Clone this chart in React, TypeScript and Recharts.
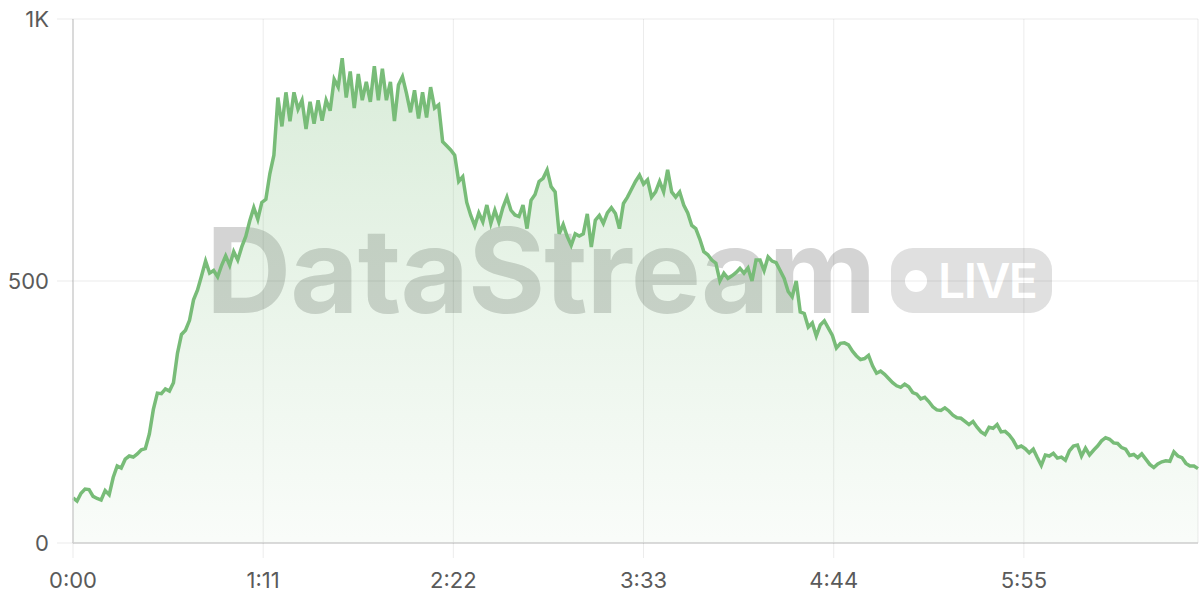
import React from "react";
import {
  AreaChart,
  Area,
  XAxis,
  YAxis,
  CartesianGrid,
} from "recharts";

// sampling interval in seconds
const STEP_SECONDS = 1.5;

// x-axis tick positions (seconds) and y-axis ticks
const X_TICKS = [0, 71, 142, 213, 284, 355];
const Y_TICKS = [0, 500, 1000];

// live viewer counts, one value per sample
const viewers = [
  86, 80, 95, 103, 102, 89, 85, 82, 100, 92,
  125, 147, 143, 160, 166, 164, 170, 178, 180, 208,
  255, 286, 285, 294, 290, 306, 362, 398, 406, 425,
  464, 483, 510, 538, 515, 520, 508, 530, 548, 530,
  556, 540, 565, 585, 615, 640, 618, 650, 656, 705,
  740, 850, 795, 860, 805, 860, 828, 845, 790, 842,
  800, 845, 806, 845, 825, 885, 870, 925, 850, 900,
  830, 895, 845, 880, 842, 910, 845, 905, 845, 880,
  805, 874, 890, 858, 822, 864, 810, 860, 812, 870,
  830, 836, 766, 758, 750, 740, 690, 699, 650, 625,
  605, 630, 613, 645, 610, 635, 612, 640, 660, 635,
  626, 623, 645, 600, 654, 665, 690, 696, 712, 680,
  670, 590, 608, 585, 568, 590, 586, 590, 628, 565,
  616, 625, 610, 630, 640, 629, 600, 648, 660, 675,
  690, 702, 685, 693, 660, 670, 690, 670, 712, 670,
  660, 670, 645, 630, 606, 600, 580, 556, 550, 540,
  534, 500, 515, 505, 510, 516, 524, 515, 525, 500,
  540, 540, 520, 546, 538, 535, 520, 505, 480, 470,
  500, 441, 438, 412, 420, 395, 416, 424, 410, 396,
  372, 381, 382, 378, 366, 357, 350, 352, 358, 338,
  324, 328, 322, 314, 306, 300, 297, 303, 298, 287,
  284, 275, 278, 270, 260, 254, 253, 258, 252, 244,
  239, 238, 232, 226, 232, 221, 212, 207, 221, 219,
  226, 212, 213, 206, 196, 182, 185, 180, 172, 179,
  163, 148, 168, 166, 171, 162, 164, 158, 176, 185,
  187, 166, 181, 168, 177, 185, 195, 201, 198, 191,
  190, 182, 179, 167, 169, 163, 170, 160, 150, 144,
  151, 155, 157, 156, 174, 166, 163, 152, 147, 147,
  142,
];

const data = viewers.map((v, i) => ({ t: i * STEP_SECONDS, v }));

const fmtTime = (s: number) => {
  const m = Math.floor(s / 60);
  const sec = Math.round(s % 60);
  return `${m}:${sec.toString().padStart(2, "0")}`;
};
const fmtCount = (v: number) => (v >= 1000 ? `${v / 1000}K` : `${v}`);

const FONT = "Inter, 'Liberation Sans', Arial, sans-serif";
const LINE = "#78bc78";

function Watermark() {
  return (
    <svg
      width={1200}
      height={600}
      style={{ position: "absolute", left: 0, top: 0, zIndex: 0 }}
    >
      <text
        x={206}
        y={313}
        fontFamily={FONT}
        fontWeight={700}
        fontSize={118}
        letterSpacing={-1}
        fill="#d4d4d4"
      >
        DataStream
      </text>
      <rect x={891} y={248} width={161} height={65} rx={22} fill="#e0e0e0" />
      <circle cx={916} cy={281} r={11} fill="#ffffff" />
      <text
        x={938}
        y={298}
        fontFamily={FONT}
        fontWeight={600}
        fontSize={48}
        letterSpacing={-1.5}
        fill="#ffffff"
      >
        LIVE
      </text>
    </svg>
  );
}

export default function App() {
  return (
    <div
      style={{
        position: "absolute",
        left: 0,
        top: 0,
        width: 1200,
        height: 600,
        background: "#ffffff",
      }}
    >
      <Watermark />
      <div style={{ position: "absolute", left: 0, top: 0, zIndex: 1 }}>
        <AreaChart
          width={1200}
          height={600}
          data={data}
          margin={{ top: 19, right: 2, bottom: 0, left: 0 }}
        >
          <defs>
            <linearGradient id="fillGreen" x1="0" y1="0" x2="0" y2="1">
              <stop offset="0%" stopColor={LINE} stopOpacity={0.46} />
              <stop offset="100%" stopColor={LINE} stopOpacity={0.07} />
            </linearGradient>
          </defs>
          <CartesianGrid stroke="rgba(0,0,0,0.08)" strokeWidth={1} />
          <XAxis
            dataKey="t"
            type="number"
            domain={[0, 420]}
            ticks={X_TICKS}
            tickFormatter={fmtTime}
            height={57}
            tickSize={15}
            tickMargin={14}
            axisLine={{ stroke: "#d0d0d0", strokeWidth: 1.5 }}
            tickLine={{ stroke: "rgba(0,0,0,0.08)" }}
            tick={{ fill: "#5a5a5a", fontSize: 22, fontFamily: FONT }}
            interval={0}
          />
          <YAxis
            type="number"
            domain={[0, 1000]}
            ticks={Y_TICKS}
            tickFormatter={fmtCount}
            width={73}
            tickSize={16}
            tickMargin={8}
            axisLine={{ stroke: "#d0d0d0", strokeWidth: 1.5 }}
            tickLine={{ stroke: "rgba(0,0,0,0.08)" }}
            tick={{ fill: "#5a5a5a", fontSize: 22, fontFamily: FONT }}
            interval={0}
          />
          <Area
            type="linear"
            dataKey="v"
            stroke={LINE}
            strokeWidth={3.5}
            fill="url(#fillGreen)"
            dot={false}
            activeDot={false}
            isAnimationActive={false}
          />
        </AreaChart>
      </div>
    </div>
  );
}
